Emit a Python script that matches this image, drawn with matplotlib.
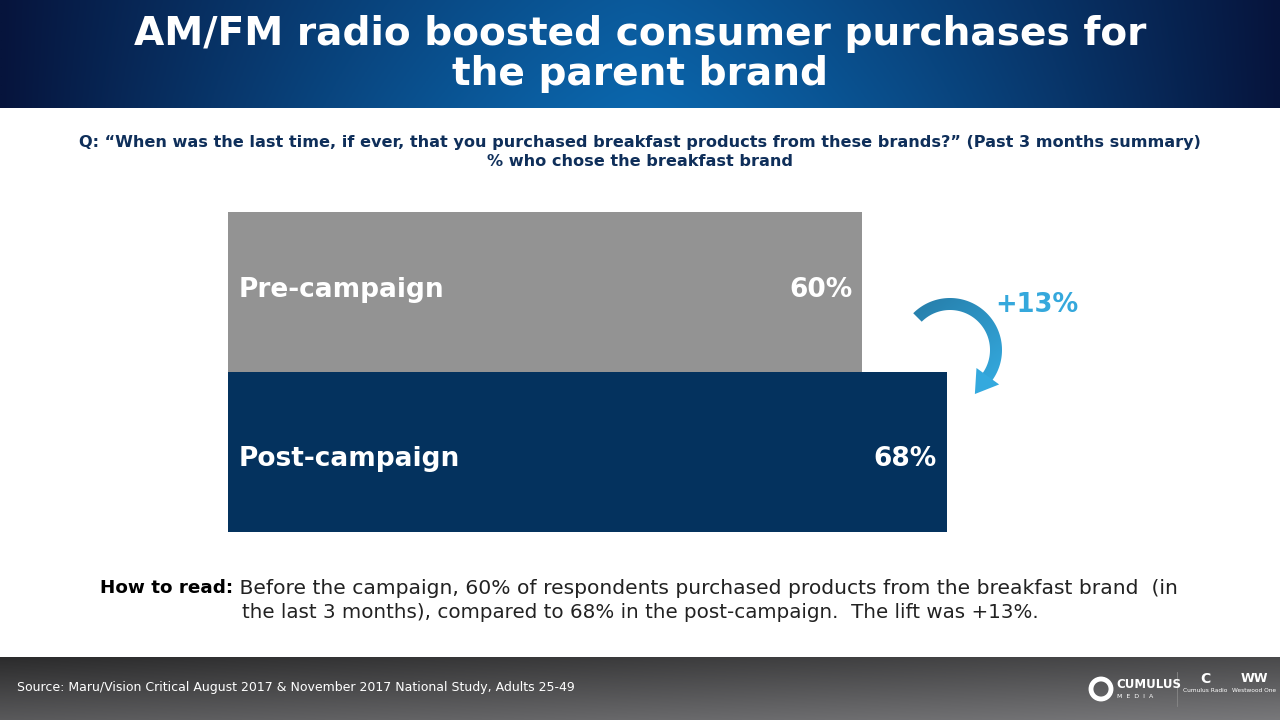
import numpy as np
import matplotlib
matplotlib.use('Agg')
import matplotlib.pyplot as plt
from matplotlib.patches import Circle, Polygon

# data
labels = ['Post-campaign', 'Pre-campaign']
values = [68, 60]
colors = ['#04325e', '#939393']
lift = '+13%'

title = 'AM/FM radio boosted consumer purchases for\nthe parent brand'
question = ('Q: \u201cWhen was the last time, if ever, that you purchased breakfast products '
            'from these brands?\u201d (Past 3 months summary)\n% who chose the breakfast brand')
read_bold = 'How to read:'
read_1 = ' Before the campaign, 60% of respondents purchased products from the breakfast brand  (in'
read_2 = 'the last 3 months), compared to 68% in the post-campaign.  The lift was +13%.'
source = 'Source: Maru/Vision Critical August 2017 & November 2017 National Study, Adults 25-49'

W, H = 1280, 720
fig = plt.figure(figsize=(12.8, 7.2), dpi=100)
plt.rcParams['font.family'] = ['DejaVu Sans']

# background axes in pixel coords (y down)
bg = fig.add_axes([0, 0, 1, 1])
bg.set_xlim(0, W)
bg.set_ylim(H, 0)
bg.axis('off')

# header gradient
xs = np.linspace(-1, 1, 400)
ys = np.linspace(0, 1, 60)
XS, YS = np.meshgrid(xs, ys)
t = np.clip(1 - np.abs(XS) ** 1.3, 0, 1) * (0.85 + 0.15 * YS)
c0 = np.array([0x06, 0x14, 0x3c]) / 255
c1 = np.array([0x0b, 0x66, 0xac]) / 255
grad = c0 * (1 - t[..., None]) + c1 * t[..., None]
bg.imshow(grad, extent=[0, W, 108, 0], aspect='auto', zorder=0)

# footer gradient
fx = np.linspace(0, 1, 300)
fy = np.linspace(0, 1, 60)
FX, FY = np.meshgrid(fx, fy)
v = 0.17 + 0.18 * FY + 0.12 * FX
foot = np.stack([v, v, v * 1.02], axis=-1).clip(0, 1)
bg.imshow(foot, extent=[0, W, H, 657], aspect='auto', zorder=0)

bg.text(640, 54, title, color='white', fontsize=28.2, fontweight='bold',
        ha='center', va='center', linespacing=1.07)
bg.text(640, 152, question, color='#0f2f5a', fontsize=11.6, fontweight='bold',
        ha='center', va='center', linespacing=1.4)

# how to read
tb = bg.text(100, 588, read_bold, color='black', fontsize=13.2, fontweight='bold',
             ha='left', va='center')
fig.canvas.draw()
ext = tb.get_window_extent()
x_end = bg.transData.inverted().transform((ext.x1, ext.y0))[0]
bg.text(x_end, 588, read_1, color='#222222', fontsize=14.55, ha='left', va='center')
bg.text(640, 613, read_2, color='#222222', fontsize=14.3, ha='center', va='center')

bg.text(17, 687, source, color='white', fontsize=9.0, ha='left', va='center')

# logos (simplified)
bg.add_patch(Circle((1101, 689), 10, facecolor='none', edgecolor='white', lw=3.5, zorder=3))
bg.text(1116, 685, 'CUMULUS', color='white', fontsize=8.5, fontweight='bold', ha='left', va='center')
bg.text(1117, 696, 'M  E  D  I  A', color='white', fontsize=4.5, ha='left', va='center')
bg.plot([1177, 1177], [672, 706], color='#888888', lw=0.6)
bg.text(1205, 690, 'Cumulus Radio', color='white', fontsize=4.2, ha='center', va='center')
bg.text(1254, 690, 'Westwood One', color='white', fontsize=4.2, ha='center', va='center')
bg.text(1205, 679, 'C', color='white', fontsize=10, fontweight='bold', ha='center', va='center')
bg.text(1254, 679, 'WW', color='white', fontsize=9, fontweight='bold', ha='center', va='center')

# bar axes: left 228px, 10.567 px per %
px = 634 / 60
xmax = 80
ax = fig.add_axes([228 / W, (H - 532) / H, xmax * px / W, 320 / H])
ax.barh([0, 1], values, height=1.0, color=colors, align='center')
ax.set_xlim(0, xmax)
ax.set_ylim(-0.5, 1.5)
ax.axis('off')
for i, (lab, val) in enumerate(zip(labels, values)):
    dy = 0.01 if i == 1 else -0.045
    ax.text(1, i + dy, lab, color='white', fontsize=19, fontweight='bold', ha='left', va='center')
    ax.text(val - 0.9, i + dy, f'{val}%', color='white', fontsize=19, fontweight='bold',
            ha='right', va='center')

# curved arrow: elliptic arc shaft (filled band) + triangle head
cx, cy, rx, ry = 950, 350, 46, 46
th = np.radians(np.linspace(-135, 36, 120))
px_c = cx + rx * np.cos(th)
py_c = cy + ry * np.sin(th)
tx = -rx * np.sin(th)
ty = ry * np.cos(th)
nn = np.hypot(tx, ty)
tx, ty = tx / nn, ty / nn
half = 6.0
outer = np.column_stack([px_c + ty * half, py_c - tx * half])
inner = np.column_stack([px_c - ty * half, py_c + tx * half])
bx, by = px_c[-1], py_c[-1]
ux, uy = tx[-1], ty[-1]
hl, hw = 21, 14
head = np.array([(bx + ux * hl, by + uy * hl),
                 (bx - uy * hw - ux, by + ux * hw - uy),
                 (bx + uy * hw - ux, by - ux * hw - uy)])
ca = np.array([0x26, 0x7d, 0xa9]) / 255
cb = np.array([0x34, 0xa9, 0xde]) / 255
shaft = Polygon(np.vstack([outer, inner[::-1]]), closed=True, facecolor='none',
                edgecolor='none', zorder=5)
bg.add_patch(shaft)
gx = np.linspace(0, 1, 100)
gy = np.linspace(0, 1, 100)
GX, GY = np.meshgrid(gx, gy)
gt = np.clip(0.55 * GX + 0.75 * GY - 0.1, 0, 1)
gimg = ca * (1 - gt[..., None]) + cb * gt[..., None]
im = bg.imshow(gimg, extent=[905, 1010, 405, 290], aspect='auto', zorder=5)
im.set_clip_path(shaft)
bg.add_patch(Polygon(head, closed=True, facecolor=cb, edgecolor='none', zorder=6))
bg.set_xlim(0, W)
bg.set_ylim(H, 0)
bg.text(1037, 305, lift, color='#35a8dc', fontsize=18.5, fontweight='bold', ha='center', va='center')

fig.savefig('out.png', dpi=100)
